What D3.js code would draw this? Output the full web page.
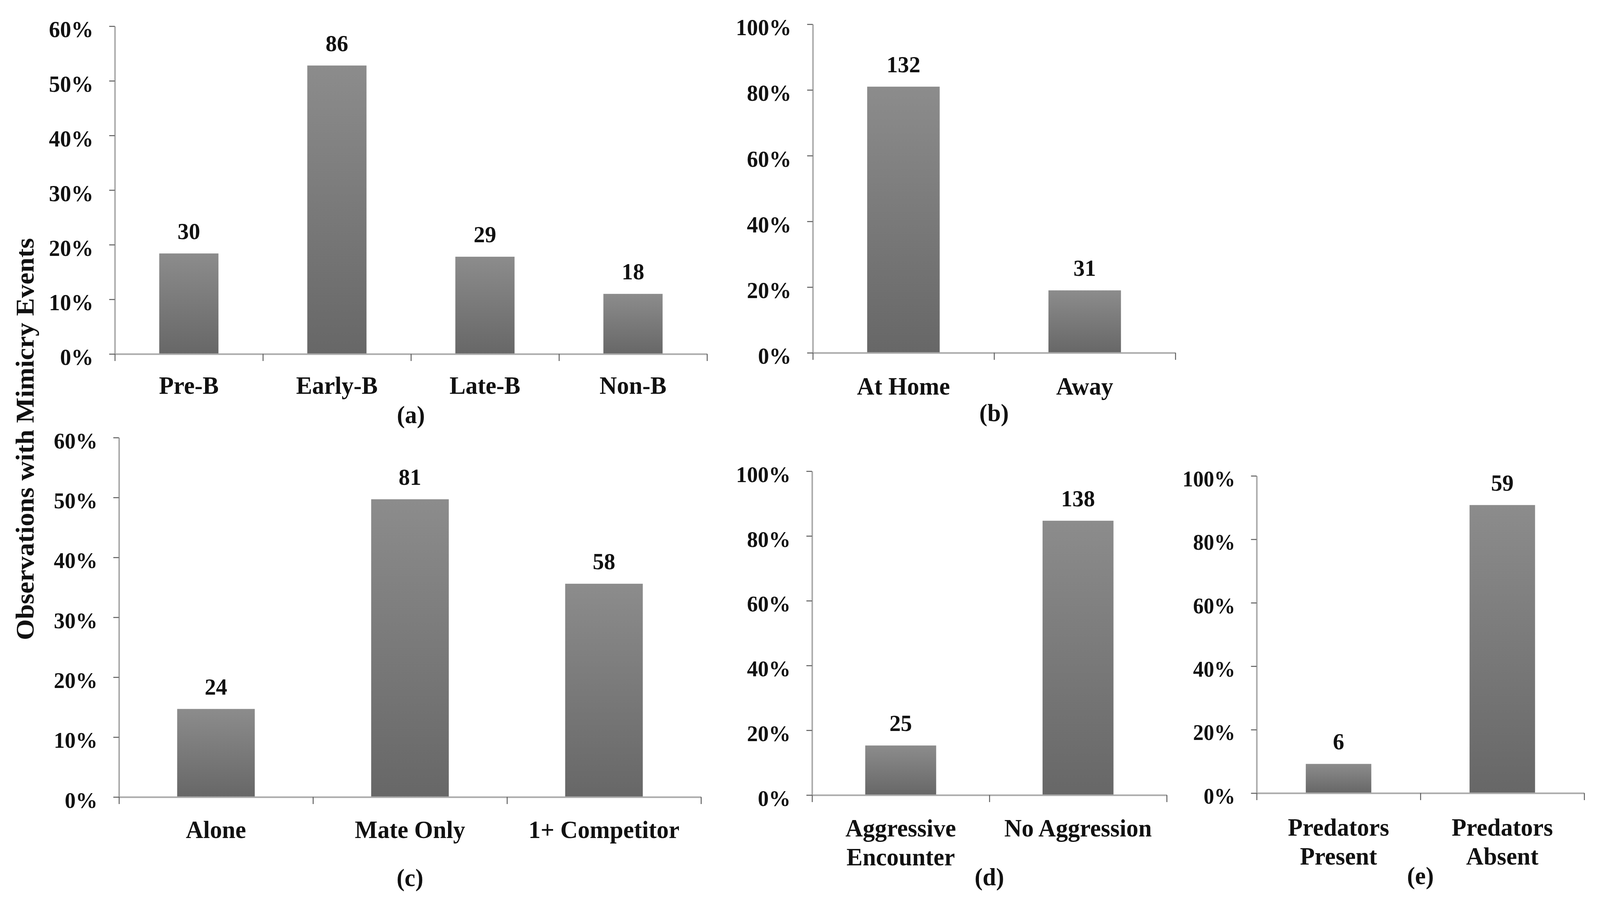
<!DOCTYPE html>
<html>
<head>
<meta charset="utf-8">
<script src="https://cdn.jsdelivr.net/npm/d3@7"></script>
<style>
  html, body { margin: 0; padding: 0; background: #fff; width: 100%; height: 100%; overflow: hidden; }
  svg { display: block; width: 100vw; height: 100vh; }
  text { font-family: "Liberation Serif", "Times New Roman", serif; font-weight: bold; fill: #111; }
</style>
</head>
<body>
<svg id="chart" viewBox="0 0 4250 2319" preserveAspectRatio="none"></svg>
<script>
// values: share of observations (%) and counts above bars
const stageCats = ["Pre-B", "Early-B", "Late-B", "Non-B"];
const stageShare = [18.4, 52.8, 17.8, 11.0];
const stageCounts = [30, 86, 29, 18];

const locCats = ["At Home", "Away"];
const locShare = [81.0, 19.0];
const locCounts = [132, 31];

const companyCats = ["Alone", "Mate Only", "1+ Competitor"];
const companyShare = [14.7, 49.7, 35.6];
const companyCounts = [24, 81, 58];

const aggrCats = [["Aggressive", "Encounter"], ["No Aggression"]];
const aggrShare = [15.3, 84.7];
const aggrCounts = [25, 138];

const predCats = [["Predators", "Present"], ["Predators", "Absent"]];
const predShare = [9.2, 90.8];
const predCounts = [6, 59];

const ticks60 = [0, 10, 20, 30, 40, 50, 60];
const ticks100 = [0, 20, 40, 60, 80, 100];

const yTitle = "Observations with Mimicry Events";

const svg = d3.select("#chart");

const grad = svg.append("defs").append("linearGradient")
  .attr("id", "barFill").attr("x1", 0).attr("y1", 0).attr("x2", 0).attr("y2", 1);
grad.append("stop").attr("offset", "0%").attr("stop-color", "#8c8c8c");
grad.append("stop").attr("offset", "100%").attr("stop-color", "#676767");

// one small bar panel; layout numbers are pixel positions of the axes
function panel(o) {
  const g = svg.append("g");
  const n = o.cats.length;
  const y = d3.scaleLinear().domain([0, o.max]).range([o.y0, o.yTop]);
  const band = d3.scaleBand().domain(d3.range(n)).range([o.x0, o.x1])
    .paddingInner(0.6).paddingOuter(0.3);
  const bounds = d3.scaleLinear().domain([0, n]).range([o.x0, o.x1]);

  g.selectAll("rect.bar").data(o.share).join("rect")
    .attr("class", "bar")
    .attr("x", (d, i) => band(i)).attr("width", band.bandwidth())
    .attr("y", d => y(d)).attr("height", d => y(0) - y(d))
    .attr("fill", "url(#barFill)");

  g.selectAll("text.count").data(o.counts).join("text")
    .attr("class", "count")
    .attr("x", (d, i) => band(i) + band.bandwidth() / 2)
    .attr("y", (d, i) => y(o.share[i]) - 37)
    .attr("text-anchor", "middle").attr("font-size", 60)
    .text(d => d);

  const gy = g.append("g").attr("transform", `translate(${o.x0},0)`)
    .call(d3.axisLeft(y).tickValues(o.ticks).tickFormat(d => d + "%")
      .tickSize(15).tickSizeOuter(0).tickPadding(42));
  gy.selectAll("text").attr("dy", "0.47em").attr("font-size", o.tickFont)
    .attr("font-family", null).attr("fill", "#111");

  const gx = g.append("g").attr("transform", `translate(0,${o.y0})`)
    .call(d3.axisBottom(bounds).tickValues(d3.range(n + 1)).tickFormat("")
      .tickSize(18).tickSizeOuter(0));

  [gx, gy].forEach(a => {
    a.select(".domain").attr("stroke", "#a9a9a9").attr("stroke-width", 4);
    a.selectAll(".tick line").attr("stroke", "#5c5c5c").attr("stroke-width", 2.5);
  });

  g.selectAll("text.cat").data(o.cats).join("text")
    .attr("class", "cat")
    .attr("x", (d, i) => band(i) + band.bandwidth() / 2)
    .attr("y", o.catBase)
    .attr("text-anchor", "middle").attr("font-size", 64)
    .selectAll("tspan").data(d => Array.isArray(d) ? d : [d]).join("tspan")
    .attr("x", function () { return this.parentNode.getAttribute("x"); })
    .attr("dy", (d, i) => i === 0 ? 0 : 74)
    .text(d => d);

  g.append("text")
    .attr("x", (o.x0 + o.x1) / 2).attr("y", o.tagBase)
    .attr("text-anchor", "middle").attr("font-size", 64)
    .text(o.tag);
}

panel({ cats: stageCats, share: stageShare, counts: stageCounts, ticks: ticks60, max: 60,
  x0: 305, x1: 1878, yTop: 67, y0: 906, tickFont: 59, catBase: 1008, tagBase: 1083, tag: "(a)" });
panel({ cats: locCats, share: locShare, counts: locCounts, ticks: ticks100, max: 100,
  x0: 2159, x1: 3122, yTop: 62, y0: 903, tickFont: 59, catBase: 1010, tagBase: 1078, tag: "(b)" });
panel({ cats: companyCats, share: companyShare, counts: companyCounts, ticks: ticks60, max: 60,
  x0: 316, x1: 1862, yTop: 1120, y0: 2040, tickFont: 58, catBase: 2145, tagBase: 2268, tag: "(c)" });
panel({ cats: aggrCats, share: aggrShare, counts: aggrCounts, ticks: ticks100, max: 100,
  x0: 2157, x1: 3099, yTop: 1206, y0: 2035, tickFont: 58, catBase: 2141, tagBase: 2266, tag: "(d)" });
panel({ cats: predCats, share: predShare, counts: predCounts, ticks: ticks100, max: 100,
  x0: 3338, x1: 4208, yTop: 1218, y0: 2030, tickFont: 56, catBase: 2139, tagBase: 2263, tag: "(e)" });

svg.append("text")
  .attr("transform", "translate(89,1124) rotate(-90)")
  .attr("text-anchor", "middle").attr("font-size", 69)
  .text(yTitle);
</script>
</body>
</html>
